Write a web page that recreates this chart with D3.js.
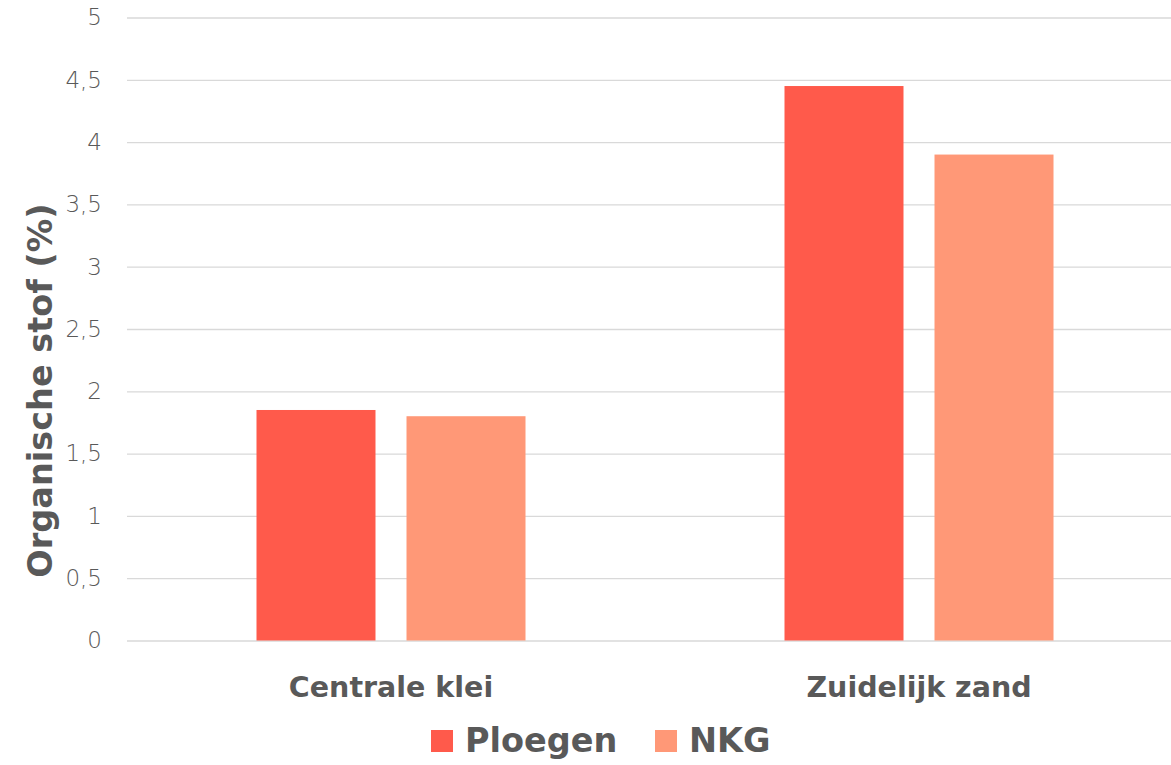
<!DOCTYPE html>
<html>
<head>
<meta charset="utf-8">
<script src="https://cdn.jsdelivr.net/npm/d3@7"></script>
<style>
  html, body { margin: 0; padding: 0; background: #fff; }
  svg { display: block; }
  text { font-family: "DejaVu Sans", sans-serif; fill: #595959; }
</style>
</head>
<body>
<svg id="chart" width="1171" height="765"></svg>
<script>
// Organic matter per soil region, ploughing vs. non-inversion tillage
const categories = ["Centrale klei", "Zuidelijk zand"];
const seriesNames = ["Ploegen", "NKG"];
const ploegen = [1.85, 4.45];
const nkg = [1.80, 3.90];
const yTicks = [0, 0.5, 1, 1.5, 2, 2.5, 3, 3.5, 4, 4.5, 5];
const colors = ["#FF5A4B", "#FF9877"];

const svg = d3.select("#chart");
const W = 1171, H = 765;
const plotLeft = 127, plotRight = 1183, plotTop = 17.5, plotBottom = 640.5;

const values = [ploegen, nkg];
const rows = categories.map((c, i) => ({
  cat: c,
  vals: seriesNames.map((s, j) => ({ key: s, v: values[j][i], color: colors[j] }))
}));

const x0 = d3.scaleBand().domain(categories).range([plotLeft, plotRight]).padding(0);
const groupW = 269;
const x1 = d3.scaleBand().domain(seriesNames).range([-groupW / 2, groupW / 2])
  .paddingInner(0.2067).paddingOuter(0);
const y = d3.scaleLinear().domain([0, 5]).range([plotBottom, plotTop]);

const fmt = d => String(d).replace(".", ",");

// horizontal gridlines
const yAxis = d3.axisLeft(y).tickValues(yTicks).tickFormat(fmt)
  .tickSize(-(W - plotLeft)).tickPadding(25);
const gy = svg.append("g").attr("transform", `translate(${plotLeft},0)`).call(yAxis);
gy.select(".domain").remove();
gy.selectAll(".tick line").attr("stroke", "#D9D9D9").attr("stroke-width", 1.3);
gy.selectAll(".tick text")
  .attr("font-size", 23).attr("font-weight", 300).attr("fill", "#595959")
  .style("font-family", "'DejaVu Sans', sans-serif");

// bars
const groups = svg.append("g").selectAll("g").data(rows).join("g")
  .attr("transform", d => `translate(${x0(d.cat) + x0.bandwidth() / 2},0)`);
groups.selectAll("rect").data(d => d.vals).join("rect")
  .attr("x", d => x1(d.key))
  .attr("width", x1.bandwidth())
  .attr("y", d => y(d.v))
  .attr("height", d => y(0) - y(d.v))
  .attr("fill", d => d.color);

// category labels
const xAxis = d3.axisBottom(x0).tickSize(0).tickPadding(0);
const gx = svg.append("g").attr("transform", `translate(0,${plotBottom})`).call(xAxis);
gx.select(".domain").remove();
gx.selectAll(".tick text")
  .attr("y", 56).attr("dy", 0)
  .attr("font-size", 28.5).attr("font-weight", "bold").attr("fill", "#595959")
  .style("font-family", "'DejaVu Sans', sans-serif");

// y axis title
svg.append("text")
  .attr("transform", `translate(52,${(203 + 578) / 2}) rotate(-90)`)
  .attr("text-anchor", "middle")
  .attr("font-size", 33.5).attr("font-weight", "bold")
  .text("Organische stof (%)");

// legend
const legendX = [431, 655];
const leg = svg.append("g").selectAll("g").data(seriesNames).join("g")
  .attr("transform", (d, i) => `translate(${legendX[i]},730)`);
leg.append("rect").attr("width", 22).attr("height", 22)
  .attr("fill", (d, i) => colors[i]);
leg.append("text").attr("x", 34).attr("y", 22)
  .attr("font-size", 33.5).attr("font-weight", "bold")
  .text(d => d);
</script>
</body>
</html>
